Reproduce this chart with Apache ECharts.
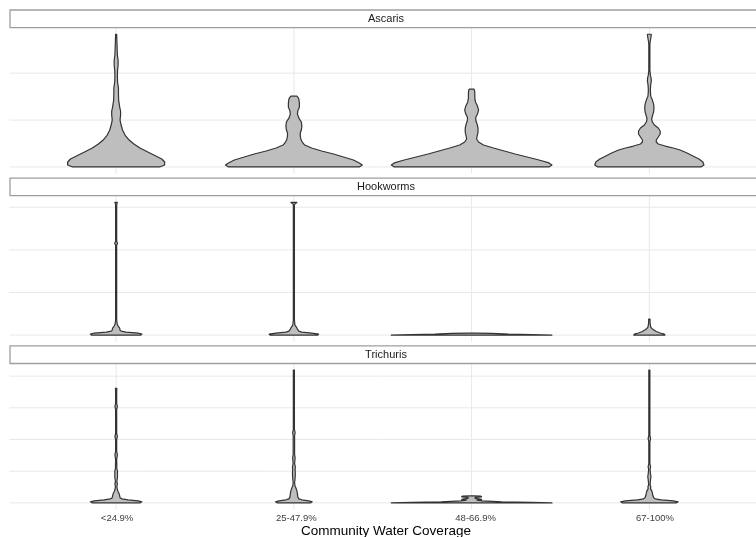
<!DOCTYPE html>
<html><head><meta charset="utf-8">
<script src="https://cdn.jsdelivr.net/npm/echarts@6/dist/echarts.min.js"></script>
<style>html,body{margin:0;padding:0;background:#fff}#c{width:756px;height:537px}</style>
</head><body><div id="c"></div>
<script>
// ---------- data ----------
const categories = ['<24.9%', '25-47.9%', '48-66.9%', '67-100%'];
const panelNames = ['Ascaris', 'Hookworms', 'Trichuris'];
const xTitle = 'Community Water Coverage';
// gridline break values per panel (labels are not visible in the source)
const ascarisBreaks = [0, 50, 100];
const hookwormBreaks = [0, 40, 80, 120];
const trichurisBreaks = [0, 30, 60, 90, 120];

// violin profiles: [value, half-width (fraction of category spacing)]
const ascarisC1 = [[0,0.245],[2.1,0.273],[5.3,0.273],[8.5,0.257],[11.7,0.223],[16.0,0.178],[20.2,0.134],[24.5,0.100],[28.7,0.073],[34.0,0.050],[39.4,0.036],[44.7,0.028],[50.0,0.022],[55.3,0.025],[59.6,0.025],[63.8,0.020],[71.3,0.014],[78.7,0.013],[84.0,0.013],[90.4,0.008],[97.9,0.007],[103.2,0.008],[108.5,0.011],[113.8,0.011],[119.1,0.007],[124.5,0.006],[135.1,0.004],[141.5,0.003]];
const ascarisC2 = [[0,0.368],[2.1,0.385],[4.3,0.368],[7.4,0.335],[10.6,0.279],[13.8,0.223],[17.0,0.156],[20.2,0.100],[23.4,0.061],[26.6,0.047],[29.8,0.039],[33.0,0.036],[36.2,0.036],[39.4,0.042],[43.6,0.045],[47.9,0.042],[52.1,0.028],[56.4,0.020],[59.6,0.022],[63.8,0.031],[68.1,0.031],[72.3,0.028],[74.5,0.022],[75.5,0.017]];
const ascarisC3 = [[0,0.435],[2.1,0.452],[4.3,0.435],[7.4,0.379],[10.6,0.312],[13.8,0.245],[17.0,0.184],[20.2,0.123],[23.4,0.067],[26.6,0.039],[29.8,0.028],[33.0,0.031],[37.2,0.036],[41.5,0.036],[45.7,0.031],[50.0,0.023],[53.2,0.024],[56.4,0.033],[60.6,0.039],[64.9,0.033],[69.1,0.022],[73.4,0.018],[77.7,0.018],[80.9,0.017],[83.0,0.014]];
const ascarisC4 = [[0,0.290],[2.1,0.307],[5.3,0.301],[8.5,0.279],[11.7,0.245],[14.9,0.212],[18.1,0.173],[20.2,0.134],[22.3,0.089],[24.5,0.050],[26.6,0.039],[28.7,0.039],[31.9,0.050],[35.1,0.061],[38.3,0.061],[41.5,0.050],[44.7,0.028],[47.9,0.017],[51.1,0.013],[54.3,0.017],[58.5,0.024],[62.8,0.026],[67.0,0.024],[71.3,0.017],[75.5,0.008],[79.8,0.006],[84.0,0.006],[88.3,0.008],[91.5,0.011],[94.7,0.010],[97.9,0.006],[103.2,0.003],[113.8,0.003],[124.5,0.003],[130.9,0.003],[135.1,0.006],[138.3,0.009],[141.5,0.011]];

const hookwormC1 = [[0,0.139],[0.9,0.145],[1.9,0.123],[2.8,0.056],[3.7,0.028],[4.7,0.022],[6.6,0.020],[8.4,0.011],[10.3,0.006],[14.1,0.003],[84.3,0.003],[86.2,0.008],[88.1,0.003],[122.7,0.003],[124.6,0.007]];
const hookwormC2 = [[0,0.134],[0.9,0.139],[1.9,0.100],[2.8,0.045],[3.7,0.028],[5.6,0.020],[7.5,0.014],[9.4,0.006],[14.1,0.003],[122.7,0.003],[123.7,0.011],[124.6,0.017]];
const hookwormC3 = [[0,0.452],[0.5,0.335],[0.9,0.206],[1.6,0.112],[1.9,0.02]];
const hookwormC4 = [[0,0.088],[0.9,0.084],[1.9,0.061],[3.3,0.039],[5.6,0.017],[7.5,0.008],[11.2,0.004],[15.0,0.004]];

const trichurisC1 = [[0,0.134],[1.0,0.145],[1.9,0.123],[2.9,0.067],[3.8,0.033],[4.8,0.022],[6.7,0.020],[8.6,0.017],[10.5,0.011],[12.4,0.007],[15.2,0.004],[18.1,0.007],[20.0,0.004],[23.8,0.007],[25.7,0.008],[27.6,0.007],[29.5,0.008],[32.4,0.004],[40.9,0.003],[45.7,0.007],[48.6,0.003],[60.0,0.003],[62.8,0.007],[65.7,0.003],[88.5,0.003],[91.4,0.007],[94.2,0.003],[105.7,0.003],[108.5,0.004]];
const trichurisC2 = [[0,0.095],[1.0,0.103],[1.9,0.084],[2.9,0.045],[3.8,0.028],[5.7,0.022],[8.6,0.020],[11.4,0.017],[14.3,0.011],[16.2,0.006],[19.0,0.004],[23.8,0.007],[27.6,0.008],[31.4,0.007],[34.3,0.008],[37.1,0.004],[42.8,0.007],[45.7,0.004],[63.8,0.004],[66.6,0.007],[69.5,0.003],[125.7,0.003]];
const trichurisC3 = [[0,0.452],[0.5,0.335],[1.0,0.17],[1.9,0.06],[2.6,0.03],[3.1,0.056],[3.5,0.05],[4.3,0.02],[5.2,0.02],[5.7,0.056],[6.4,0.05],[6.7,0.005]];
const trichurisC4 = [[0,0.151],[1.0,0.162],[1.9,0.134],[2.9,0.067],[3.8,0.033],[4.8,0.025],[6.7,0.020],[8.6,0.018],[11.4,0.014],[13.3,0.007],[15.2,0.008],[17.1,0.004],[22.8,0.007],[24.8,0.009],[26.7,0.007],[31.4,0.004],[34.3,0.007],[37.1,0.003],[58.1,0.003],[60.9,0.007],[63.8,0.003],[125.7,0.003]];

const panelProfiles = [
  [ascarisC1, ascarisC2, ascarisC3, ascarisC4],
  [hookwormC1, hookwormC2, hookwormC3, hookwormC4],
  [trichurisC1, trichurisC2, trichurisC3, trichurisC4]
];
const panelBreaks = [ascarisBreaks, hookwormBreaks, trichurisBreaks];

// ---------- layout ----------
const plotLeft = 9.5, plotWidth = 753;          // x range 0.4 .. 4.6 (ggplot discrete expansion)
const panelTops = [27.6, 195.7, 363.5];
const panelH = 146;
const stripH = 17.6;
const xMin = 0.4, xMax = 4.6;
const unit = plotWidth / (xMax - xMin);
const FONT = 'Liberation Sans, Arial, Helvetica, sans-serif';

const grids = [], xAxes = [], yAxes = [], series = [], graphics = [];
panelNames.forEach((name, p) => {
  const profiles = panelProfiles[p];
  let ymax = 0;
  profiles.forEach(pr => pr.forEach(d => { if (d[0] > ymax) ymax = d[0]; }));
  const yLo = -0.05 * ymax, yHi = ymax * 1.05;
  grids.push({ left: plotLeft, width: plotWidth, top: panelTops[p], height: panelH });
  xAxes.push({ type: 'value', gridIndex: p, min: xMin, max: xMax, show: false });
  yAxes.push({ type: 'value', gridIndex: p, min: yLo, max: yHi, show: false });
  // grid lines
  series.push({
    type: 'custom', xAxisIndex: p, yAxisIndex: p, silent: true, z: 1, clip: false,
    data: panelBreaks[p].map(v => [v]),
    renderItem: (params, api) => {
      const v = api.value(0);
      const a = api.coord([xMin, v]), b = api.coord([xMax, v]);
      return { type: 'line', shape: { x1: a[0], y1: a[1], x2: b[0], y2: b[1] }, style: { stroke: '#e8e8e8', lineWidth: 1 } };
    }
  });
  series.push({
    type: 'custom', xAxisIndex: p, yAxisIndex: p, silent: true, z: 1, clip: false,
    data: categories.map((c, i) => [i + 1]),
    renderItem: (params, api) => {
      const x = api.value(0);
      const a = api.coord([x, yLo]), b = api.coord([x, yHi]);
      return { type: 'line', shape: { x1: a[0], y1: a[1], x2: b[0], y2: b[1] }, style: { stroke: '#e8e8e8', lineWidth: 1 } };
    }
  });
  // violins
  series.push({
    type: 'custom', name: name, xAxisIndex: p, yAxisIndex: p, z: 3, clip: false,
    data: categories.map((c, i) => [i + 1]),
    renderItem: (params, api) => {
      const prof = profiles[params.dataIndex];
      const cx = api.value(0);
      const left = [], right = [];
      prof.forEach(d => {
        left.push(api.coord([cx - d[1], d[0]]));
        right.push(api.coord([cx + d[1], d[0]]));
      });
      const pts = left.concat(right.reverse());
      return { type: 'polygon', shape: { points: pts }, style: { fill: '#bebebe', stroke: '#333333', lineWidth: 1.2, lineJoin: 'round' } };
    }
  });
  // strip
  const sy = panelTops[p] - stripH;
  graphics.push({ type: 'rect', shape: { x: 10, y: sy, width: 760, height: stripH }, style: { fill: '#ffffff', stroke: '#9e9e9e', lineWidth: 1.3 }, z: 10 });
  graphics.push({ type: 'text', x: plotLeft + plotWidth / 2, y: sy + stripH / 2 + 0.5, style: { text: name, fill: '#1a1a1a', font: '11px ' + FONT, textAlign: 'center', textVerticalAlign: 'middle' }, z: 11 });
});

// category label axis aligned with category centres
const catLeft = plotLeft + (1 - xMin) * unit - unit / 2;
grids.push({ left: catLeft, width: unit * 4, top: panelTops[2] + panelH, height: 1 });
xAxes.push({
  type: 'category', gridIndex: 3, data: categories, position: 'bottom',
  axisLine: { show: false }, axisTick: { show: false },
  axisLabel: { show: true, margin: 4, color: '#404040', fontSize: 9.5, fontFamily: FONT },
  name: xTitle, nameLocation: 'middle', nameGap: 15,
  nameTextStyle: { color: '#000', fontSize: 13.5, fontFamily: FONT }
});
yAxes.push({ type: 'value', gridIndex: 3, show: false });
series.push({ type: 'scatter', xAxisIndex: 3, yAxisIndex: 3, data: [], silent: true });

const chart = echarts.init(document.getElementById('c'), null, { renderer: 'canvas' });
chart.setOption({
  animation: false,
  backgroundColor: '#ffffff',
  grid: grids, xAxis: xAxes, yAxis: yAxes, series: series,
  graphic: graphics
});
</script></body></html>
